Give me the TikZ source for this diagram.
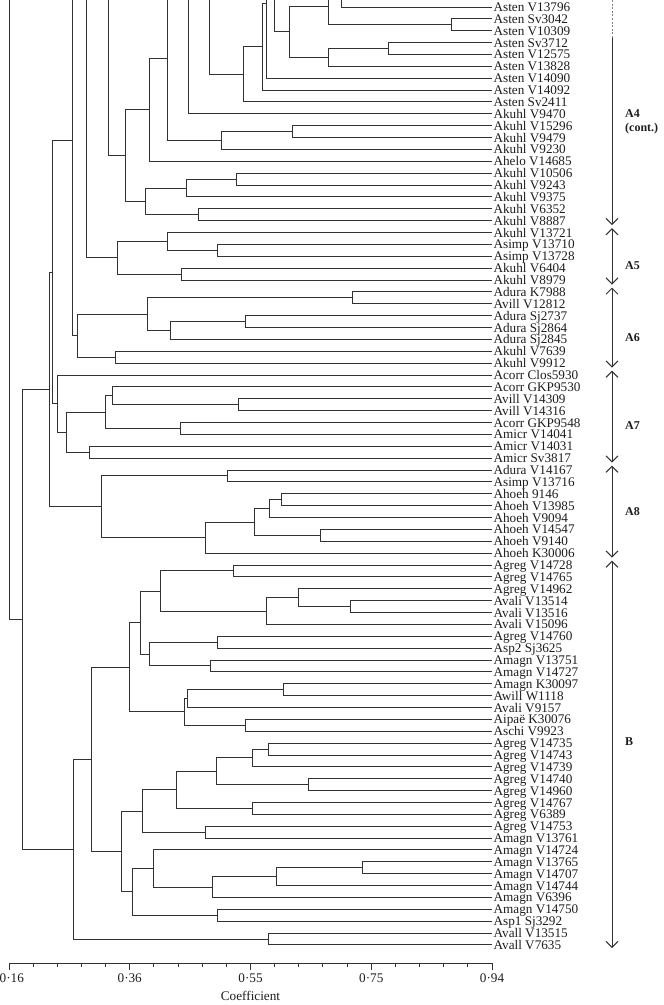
\documentclass[tikz,border=0pt]{standalone}
\usepackage{fontspec}
\setmainfont{Liberation Serif}
\usetikzlibrary{calc,arrows.meta}
\definecolor{linec}{RGB}{50,50,50}
\definecolor{txtc}{RGB}{30,30,30}
\newcommand\jn[4]{%
  \path ($(#3)!0.5!(#4)$) coordinate (#1m);
  \coordinate (#1) at (#2,0 |- #1m);
  \draw[br] (#1) |- (#3);
  \draw[br] (#1) |- (#4);
}
\begin{document}
\begin{tikzpicture}[x=1pt,y=-1pt,
  br/.style={line width=1pt, draw=linec},
  lab/.style={anchor=west, inner xsep=1.4pt, inner ysep=0pt, text height=9pt, text depth=0pt, font=\fontsize{13.2}{14}\selectfont, text=txtc},
  grp/.style={anchor=west, inner sep=0pt, font=\bfseries\fontsize{12}{14}\selectfont, text=txtc, align=left},
  tick/.style={anchor=north, inner sep=0pt, font=\fontsize{13.2}{14}\selectfont, text=txtc},
  barbone/.style={line width=1pt, draw=linec, -{Straight Barb[length=6pt,width=12pt]}},
  barbtwo/.style={line width=1pt, draw=linec, {Straight Barb[length=6pt,width=12pt]}-{Straight Barb[length=6pt,width=12pt]}}]
\useasboundingbox (0,0) rectangle (664,1005);
\clip (0,0) rectangle (664,1005);
\fill[white] (0,0) rectangle (664,1005);
% leaves
\foreach \t [count=\i] in {Asten V13796,Asten Sv3042,Asten V10309,Asten Sv3712,Asten V12575,Asten V13828,Asten V14090,Asten V14092,Asten Sv2411,Akuhl V9470,Akuhl V15296,Akuhl V9479,Akuhl V9230,Ahelo V14685,Akuhl V10506,Akuhl V9243,Akuhl V9375,Akuhl V6352,Akuhl V8887,Akuhl V13721,Asimp V13710,Asimp V13728,Akuhl V6404,Akuhl V8979,Adura K7988,Avill V12812,Adura Sj2737,Adura Sj2864,Adura Sj2845,Akuhl V7639,Akuhl V9912,Acorr Clos5930,Acorr GKP9530,Avill V14309,Avill V14316,Acorr GKP9548,Amicr V14041,Amicr V14031,Amicr Sv3817,Adura V14167,Asimp V13716,Ahoeh 9146,Ahoeh V13985,Ahoeh V9094,Ahoeh V14547,Ahoeh V9140,Ahoeh K30006,Agreg V14728,Agreg V14765,Agreg V14962,Avali V13514,Avali V13516,Avali V15096,Agreg V14760,Asp2 Sj3625,Amagn V13751,Amagn V14727,Amagn K30097,Awill W1118,Avali V9157,Aipaë K30076,Aschi V9923,Agreg V14735,Agreg V14743,Agreg V14739,Agreg V14740,Agreg V14960,Agreg V14767,Agreg V6389,Agreg V14753,Amagn V13761,Amagn V14724,Amagn V13765,Amagn V14707,Amagn V14744,Amagn V6396,Amagn V14750,Asp1 Sj3292,Avall V13515,Avall V7635}{
  \coordinate (l\i) at (492,{7+(\i-1)*11.873});
  \node[lab] (L\i) at (l\i) {\t};
}
% A4 (cont.)
\jn{n2x3}{451.3}{l2}{l3}
\coordinate (t878) at (341.6,0); \draw[br] (t878) |- (l1);
\coordinate (t845) at (328.7,0); \draw[br] (t845) |- (n2x3);
\coordinate (n845) at (328.7,6);
\jn{n4x5}{388.2}{l4}{l5}
\jn{n843}{328.0}{n4x5}{l6}
\jn{n745}{289.8}{n845}{n843}
\coordinate (t705) at (274.3,0); \draw[br] (t705) |- (n745);
\coordinate (t685) at (266.5,0); \draw[br] (t685) |- (l7);
\coordinate (n685) at (266.5,3.3);
\jn{n675}{262.6}{n685}{l8}
\jn{n625}{243.1}{n675}{l9}
\coordinate (t538) at (209.3,0); \draw[br] (t538) |- (n625);
\coordinate (t485) at (188.7,0); \draw[br] (t485) |- (l10);
\jn{n11x12}{292.6}{l11}{l12}
\jn{n570}{221.7}{n11x12}{l13}
\coordinate (t430) at (167.3,0); \draw[br] (t430) |- (n570);
\coordinate (n430) at (167.3,58);
\jn{n383}{149.0}{n430}{l14}
\jn{n15x16}{236.1}{l15}{l16}
\jn{n480}{186.7}{n15x16}{l17}
\jn{n18x19}{198.4}{l18}{l19}
\jn{n375}{145.9}{n480}{n18x19}
\jn{n322}{125.3}{n383}{n375}
\coordinate (t280) at (108.9,0); \draw[br] (t280) |- (n322);
% A5
\jn{n21x22}{217.1}{l21}{l22}
\jn{n430b}{167.3}{l20}{n21x22}
\jn{n23x24}{181.7}{l23}{l24}
\jn{n302}{117.5}{n430b}{n23x24}
\coordinate (t222) at (86.4,0); \draw[br] (t222) |- (n302);
% A6
\jn{n25x26}{352.9}{l25}{l26}
\jn{n27x28}{245.9}{l27}{l28}
\jn{n437}{170.0}{n27x28}{l29}
\jn{n380}{147.8}{n25x26}{n437}
\jn{n30x31}{115.5}{l30}{l31}
\jn{n198}{77.0}{n380}{n30x31}
\coordinate (t185) at (72.0,0); \draw[br] (t185) |- (n198);
\coordinate (n185) at (72.0,140.7);
% A7
\jn{n34x35}{238.1}{l34}{l35}
\jn{n288}{112.0}{l33}{n34x35}
\jn{n36x37}{180.9}{l36}{l37}
\jn{n270}{105.0}{n288}{n36x37}
\jn{n38x39}{89.5}{l38}{l39}
\jn{n172}{66.9}{n270}{n38x39}
\jn{n148}{57.6}{l32}{n172}
\jn{n135}{52.5}{n185}{n148}
% A8
\jn{n40x41}{227.6}{l40}{l41}
\jn{n42x43}{281.3}{l42}{l43}
\jn{n693}{269.6}{n42x43}{l44}
\jn{n45x46}{320.2}{l45}{l46}
\jn{n655}{254.8}{n693}{n45x46}
\jn{n527}{205.0}{n655}{l47}
\jn{n260}{101.1}{n40x41}{n527}
\jn{n130}{49.8}{n135}{n260}
% B
\jn{n48x49}{233.4}{l48}{l49}
\jn{n51x52}{350.9}{l51}{l52}
\jn{n768}{298.8}{l50}{n51x52}
\jn{n685b}{266.5}{n768}{l53}
\jn{n413}{160.7}{n48x49}{n685b}
\jn{n54x55}{217.1}{l54}{l55}
\jn{n56x57}{210.9}{l56}{l57}
\jn{n383b}{149.0}{n54x55}{n56x57}
\jn{n360}{140.1}{n413}{n383b}
\jn{n58x59}{283.2}{l58}{l59}
\jn{n483}{187.9}{n58x59}{l60}
\jn{n61x62}{245.9}{l61}{l62}
\jn{n475}{184.8}{n483}{n61x62}
\jn{n333}{129.5}{n360}{n475}
\jn{n63x64}{268.4}{l63}{l64}
\jn{n648}{252.1}{n63x64}{l65}
\jn{n66x67}{308.5}{l66}{l67}
\jn{n557}{216.7}{n648}{n66x67}
\jn{n68x69}{252.1}{l68}{l69}
\jn{n453}{176.2}{n557}{n68x69}
\jn{n70x71}{205.4}{l70}{l71}
\jn{n367}{142.8}{n453}{n70x71}
\jn{n73x74}{362.6}{l73}{l74}
\jn{n710}{276.2}{n73x74}{l75}
\jn{n545}{212.0}{n710}{l76}
\jn{n395}{153.7}{l72}{n545}
\jn{n77x78}{217.1}{l77}{l78}
\jn{n340}{132.3}{n395}{n77x78}
\jn{n313}{121.8}{n367}{n340}
\jn{n235}{91.4}{n333}{n313}
\jn{n79x80}{268.4}{l79}{l80}
\jn{n190}{73.9}{n235}{n79x80}
\jn{n58}{22.2}{n130}{n190}
\coordinate (t22) at (9,0); \draw[br] (t22) |- (n58);
% axis
\coordinate (ax0) at (9,963); \coordinate (ax1) at (492,963);
\draw[br] (ax0) -- (ax1);
\foreach \k in {0,...,20}{
  \pgfmathsetmacro\tl{ifthenelse(mod(\k,5)==0,7,3.5)}
  \draw[br] ({9+\k*24.15},963) -- ++(0,\tl);
}
\node[tick] (tk0) at (11.8,974) {0·16};
\node[tick] (tk1) at (129.75,974) {0·36};
\node[tick] (tk2) at (250.5,974) {0·55};
\node[tick] (tk3) at (371.25,974) {0·75};
\node[tick] (tk4) at (492,974) {0·94};
\node[tick, anchor=center] (coef) at (250.5,996) {Coefficient};
% group brackets
\coordinate (g0) at (612,0);
\coordinate (g1) at (612,38);
\coordinate (a4e) at (612,225.1);
\coordinate (a5s) at (612,228.2); \coordinate (a5e) at (612,284.5);
\coordinate (a6s) at (612,287.5); \coordinate (a6e) at (612,367.6);
\coordinate (a7s) at (612,370.6); \coordinate (a7e) at (612,462.6);
\coordinate (a8s) at (612,465.6); \coordinate (a8e) at (612,557.6);
\coordinate (bs) at (612,560.6); \coordinate (be) at (612,948);
\draw[line width=0.8pt, draw=gray, dash pattern=on 2pt off 1.6pt] (g0) -- (g1);
\draw[barbone] (g1) -- (a4e);
\draw[barbtwo] (a5s) -- (a5e);
\draw[barbtwo] (a6s) -- (a6e);
\draw[barbtwo] (a7s) -- (a7e);
\draw[barbtwo] (a8s) -- (a8e);
\draw[barbtwo] (bs) -- (be);
\node[grp] (gA4) at (625,122) {A4\\(cont.)};
\node[grp] (gA5) at (625,266) {A5};
\node[grp] (gA6) at (625,338) {A6};
\node[grp] (gA7) at (625,426) {A7};
\node[grp] (gA8) at (625,512) {A8};
\node[grp] (gB) at (625,742) {B};
\end{tikzpicture}
\end{document}
